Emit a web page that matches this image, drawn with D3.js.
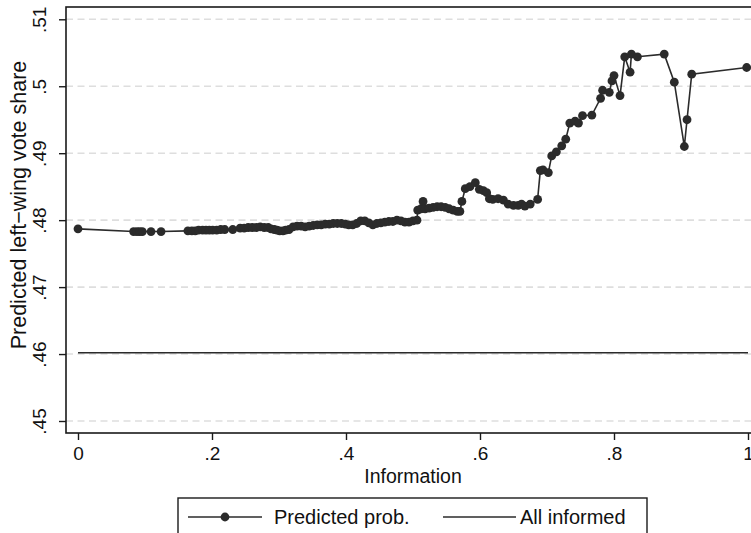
<!DOCTYPE html>
<html>
<head>
<meta charset="utf-8">
<script src="https://cdn.jsdelivr.net/npm/d3@7"></script>
<style>
  body { margin: 0; background: #fff; }
  svg { display: block; font-family: "Liberation Sans", Arial, sans-serif; }
</style>
</head>
<body>
<svg id="chart" width="751" height="533"></svg>
<script>
// information level (x) and predicted left-wing vote share (y)
var infoVals = [
  0.000, 0.083, 0.088, 0.092, 0.096, 0.109, 0.124, 0.164, 0.170, 0.175, 0.180, 0.186, 0.191,
  0.196, 0.201, 0.207, 0.213, 0.219, 0.231, 0.242, 0.248, 0.254, 0.260, 0.266, 0.272, 0.278,
  0.284, 0.288, 0.293, 0.297, 0.301, 0.306, 0.310, 0.315, 0.321, 0.327, 0.333, 0.339, 0.345,
  0.351, 0.357, 0.363, 0.369, 0.375, 0.381, 0.387, 0.393, 0.399, 0.404, 0.410, 0.416, 0.422,
  0.428, 0.434, 0.440, 0.446, 0.452, 0.458, 0.464, 0.470, 0.476, 0.482, 0.488, 0.494, 0.500,
  0.506, 0.507, 0.512, 0.515, 0.518, 0.524, 0.530, 0.536, 0.542, 0.548, 0.554, 0.560, 0.566,
  0.570, 0.573, 0.578, 0.585, 0.593, 0.599, 0.605, 0.610, 0.614, 0.619, 0.627, 0.635, 0.642,
  0.650, 0.657, 0.662, 0.667, 0.675, 0.686, 0.690, 0.694, 0.702, 0.707, 0.714, 0.722, 0.728,
  0.734, 0.742, 0.747, 0.753, 0.767, 0.780, 0.783, 0.793, 0.797, 0.800, 0.809, 0.816, 0.824,
  0.826, 0.835, 0.875, 0.890, 0.905, 0.909, 0.916, 0.998
];
var predProb = [
  0.4787, 0.4783, 0.4783, 0.4783, 0.4783, 0.4783, 0.4783, 0.4784, 0.4784, 0.4784, 0.4785, 0.4785, 0.4785,
  0.4785, 0.4785, 0.4785, 0.4786, 0.4786, 0.4786, 0.4788, 0.4788, 0.4789, 0.4789, 0.4789, 0.4790, 0.4789,
  0.4789, 0.4787, 0.4786, 0.4785, 0.4784, 0.4784, 0.4785, 0.4786, 0.4790, 0.4791, 0.4791, 0.4790, 0.4791,
  0.4792, 0.4793, 0.4793, 0.4794, 0.4794, 0.4795, 0.4795, 0.4795, 0.4794, 0.4793, 0.4793, 0.4795, 0.4799,
  0.4799, 0.4796, 0.4793, 0.4795, 0.4796, 0.4797, 0.4798, 0.4798, 0.4800, 0.4799, 0.4797, 0.4797, 0.4799,
  0.4800, 0.4815, 0.4817, 0.4828, 0.4817, 0.4818, 0.4819, 0.4820, 0.4820, 0.4819, 0.4817, 0.4815, 0.4813,
  0.4813, 0.4828, 0.4847, 0.4850, 0.4856, 0.4846, 0.4844, 0.4841, 0.4832, 0.4831, 0.4832, 0.4830, 0.4824,
  0.4822, 0.4822, 0.4824, 0.4821, 0.4824, 0.4831, 0.4874, 0.4875, 0.4871, 0.4896, 0.4902, 0.4911, 0.4921,
  0.4945, 0.4948, 0.4945, 0.4956, 0.4957, 0.4982, 0.4994, 0.4991, 0.5008, 0.5016, 0.4986, 0.5044, 0.5021,
  0.5048, 0.5044, 0.5048, 0.5006, 0.4910, 0.4950, 0.5018, 0.5028
];
var allInformed = 0.4602;

var xTicks = [0, 0.2, 0.4, 0.6, 0.8, 1];
var yTicks = [0.45, 0.46, 0.47, 0.48, 0.49, 0.50, 0.51];
var xTitle = "Information";
var yTitle = "Predicted left\u2212wing vote share";
var legendLabels = ["Predicted prob.", "All informed"];

var svg = d3.select("#chart");
var frame = {left: 66, top: 7, right: 770, bottom: 433};

var x = d3.scaleLinear().domain([0, 1]).range([78, 748]);
var y = d3.scaleLinear().domain([0.45, 0.51]).range([421, 19.3]);

var fmt = function(d){ return d3.format("")(+d.toFixed(2)).replace(/^0\./, "."); };

// grid lines
svg.append("g").selectAll("line")
  .data(yTicks)
  .enter().append("line")
  .attr("x1", frame.left).attr("x2", 751)
  .attr("y1", function(d){ return y(d); })
  .attr("y2", function(d){ return y(d); })
  .attr("stroke", "#dedede")
  .attr("stroke-width", 1.6)
  .attr("stroke-dasharray", "7,4.5");

// frame
svg.append("rect")
  .attr("x", frame.left).attr("y", frame.top)
  .attr("width", frame.right - frame.left).attr("height", frame.bottom - frame.top)
  .attr("fill", "none").attr("stroke", "#1a1a1a").attr("stroke-width", 1.6);

// axes
var xAxis = svg.append("g")
  .attr("transform", "translate(0," + frame.bottom + ")")
  .call(d3.axisBottom(x).tickValues(xTicks).tickSize(7).tickPadding(4).tickFormat(fmt));
var yAxis = svg.append("g")
  .attr("transform", "translate(" + frame.left + ",0)")
  .call(d3.axisLeft(y).tickValues(yTicks).tickSize(7).tickPadding(4).tickFormat(fmt));

[xAxis, yAxis].forEach(function(a){
  a.select(".domain").remove();
  a.selectAll(".tick line").attr("stroke", "#1a1a1a").attr("stroke-width", 1.4);
  a.selectAll(".tick text").attr("fill", "#111").style("font-size", "19px");
});
yAxis.selectAll(".tick text")
  .attr("x", null).attr("dy", null)
  .attr("text-anchor", "middle")
  .attr("transform", "translate(-20,0) rotate(-90)");
xAxis.selectAll(".tick text").attr("dy", "0.85em");

svg.append("text")
  .attr("x", x(0.5)).attr("y", 483)
  .attr("text-anchor", "middle")
  .style("font-size", "19.5px").attr("fill", "#111")
  .text(xTitle);
svg.append("text")
  .attr("transform", "translate(26,205) rotate(-90)")
  .attr("text-anchor", "middle")
  .style("font-size", "21.5px").attr("fill", "#111")
  .text(yTitle);

// series
var pts = infoVals.map(function(v, i){ return {x: v, y: predProb[i]}; });

svg.append("line")
  .attr("x1", x(0)).attr("x2", x(1))
  .attr("y1", y(allInformed)).attr("y2", y(allInformed))
  .attr("stroke", "#2b2b2b").attr("stroke-width", 1.6);

svg.append("path")
  .datum(pts)
  .attr("fill", "none")
  .attr("stroke", "#2b2b2b")
  .attr("stroke-width", 1.6)
  .attr("d", d3.line().x(function(d){ return x(d.x); }).y(function(d){ return y(d.y); }));

svg.append("g").selectAll("circle")
  .data(pts)
  .enter().append("circle")
  .attr("cx", function(d){ return x(d.x); })
  .attr("cy", function(d){ return y(d.y); })
  .attr("r", 4.4)
  .attr("fill", "#2b2b2b");

// legend
var leg = svg.append("g");
leg.append("rect")
  .attr("x", 178).attr("y", 498).attr("width", 469).attr("height", 50)
  .attr("fill", "#fff").attr("stroke", "#1a1a1a").attr("stroke-width", 1.4);
leg.append("line").attr("x1", 188).attr("x2", 262).attr("y1", 517).attr("y2", 517)
  .attr("stroke", "#2b2b2b").attr("stroke-width", 1.6);
leg.append("circle").attr("cx", 225).attr("cy", 517).attr("r", 4.4).attr("fill", "#2b2b2b");
leg.append("line").attr("x1", 443).attr("x2", 516).attr("y1", 517).attr("y2", 517)
  .attr("stroke", "#2b2b2b").attr("stroke-width", 1.6);
leg.selectAll("text.lab")
  .data(legendLabels)
  .enter().append("text")
  .attr("class", "lab")
  .attr("x", function(d, i){ return i === 0 ? 274 : 520; })
  .attr("y", 524)
  .style("font-size", "20px").attr("fill", "#111")
  .text(function(d){ return d; });
</script>
</body>
</html>
